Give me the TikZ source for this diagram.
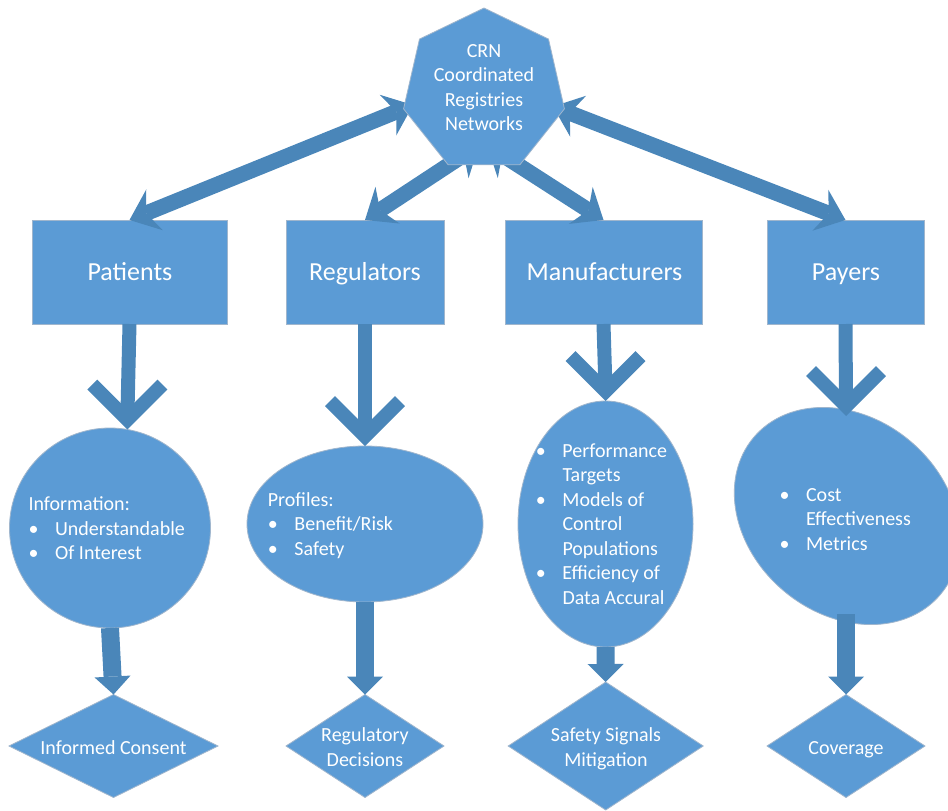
\documentclass[tikz,border=0pt]{standalone}
\usepackage{fontspec}
\setmainfont{Carlito}
\usetikzlibrary{shapes.geometric,arrows.meta,calc}
\definecolor{boxc}{RGB}{91,155,213}
\definecolor{arrc}{RGB}{74,134,185}
\definecolor{edgec}{RGB}{160,182,205}
\newcommand\bulitem{\makebox[26.6pt][l]{\textbullet}}
\newcommand\indbl{\hspace*{26.6pt}}
\newcommand\chevat[1]{\draw[chev] ($(#1)+(-35,-44.9)$) -- ($(#1)+(0,-9.9)$) -- ($(#1)+(35,-44.9)$);}
\begin{document}
\begin{tikzpicture}[x=1pt,y=-1pt,
  shapebox/.style={fill=boxc, draw=edgec, line width=0.8pt, inner sep=0pt, outer sep=0pt},
  txt/.style={text=white, font=\fontsize{20}{24.5}\selectfont, inner sep=0pt},
  bigtxt/.style={text=white, font=\fontsize{26}{31}\selectfont, inner sep=0pt, anchor=base},
  toparr/.style={draw=arrc, line width=15.5pt, >={Stealth[length=27pt,width=44pt,inset=9pt,line width=0pt]}, <->},
  botarr/.style={draw=arrc, line width=18pt, -{Triangle[length=18pt,width=36pt,line width=0pt]}},
  shaft/.style={draw=arrc, line width=14pt},
  chev/.style={draw=arrc, line width=14pt, line join=miter},
]
\fill[white] (0,0) rectangle (948,811);
\useasboundingbox (0,0) rectangle (948,811);

% boxes
\node[shapebox, minimum width=195, minimum height=104] (pat) at (129.5,272) {};
\node[shapebox, minimum width=158, minimum height=104] (reg) at (365,272) {};
\node[shapebox, minimum width=197, minimum height=104] (man) at (603.5,272) {};
\node[shapebox, minimum width=157, minimum height=104] (pay) at (845.5,272) {};
\node[bigtxt] (patl) at (130,280.5) {Patients};
\node[bigtxt] (regl) at (365,280.5) {Regulators};
\node[bigtxt] (manl) at (604.5,280.5) {Manufacturers};
\node[bigtxt] (payl) at (846,280.5) {Payers};

% ellipses
\node[shapebox, ellipse, minimum width=201, minimum height=200] (patc) at (110,528) {};
\node[shapebox, ellipse, minimum width=236, minimum height=156] (regc) at (365,524) {};
\node[shapebox, ellipse, minimum width=175, minimum height=246] (manc) at (605.5,524) {};
\node[shapebox, ellipse, minimum width=244, minimum height=196, rotate=-40] (payc) at (847,516) {};

% diamonds
\node[shapebox, diamond, minimum width=209, minimum height=103] (ic) at (113.5,746) {};
\node[shapebox, diamond, minimum width=158, minimum height=103] (rd) at (365,746) {};
\node[shapebox, diamond, minimum width=195, minimum height=128] (ss) at (605.7,746) {};
\node[shapebox, diamond, minimum width=158, minimum height=103] (cov) at (846,746) {};

% top arrows
\coordinate (h1) at (413,105);
\coordinate (h2) at (479,145);
\coordinate (h3) at (487,145);
\coordinate (h4) at (553,106.5);
\draw[toparr] (h1) -- (pat.north);
\draw[toparr] (h2) -- (reg.north);
\draw[toparr] (h3) -- (man.north);
\draw[toparr] (h4) -- (pay.north);

% heptagon
\node[shapebox, regular polygon, regular polygon sides=7, minimum size=165] (crn) at (484,90.5) {};
\node[txt, anchor=base] (crnt) at (484,57.3) {\begin{tabular}[t]{@{}c@{}}CRN\\Coordinated\\Registries\\Networks\end{tabular}};

% box -> ellipse arrows
\coordinate (paytip) at (846,416);
\draw[shaft] (pat.south) -- ($(patc.80)+(0,-12)$);
\draw[shaft] (reg.south) -- ($(regc.north)+(0,-12)$);
\draw[shaft] (man.south) -- ($(manc.north)+(0,-12)$);
\draw[shaft] (pay.south) -- ($(paytip)+(0,-12)$);
\chevat{patc.80}
\chevat{regc.north}
\chevat{manc.north}
\chevat{paytip}

% ellipse -> diamond arrows
\coordinate (paybot) at (846,614);
\draw[botarr] (patc.south) -- (ic.north);
\draw[botarr] (regc.south) -- (rd.north);
\draw[botarr] (manc.south) -- (ss.north);
\draw[botarr] (paybot) -- (cov.north);

% ellipse texts
\node[txt, anchor=base west] (patt) at (28.3,510.7) {\begin{tabular}[t]{@{}l@{}}Information:\\\bulitem Understandable\\\bulitem Of Interest\end{tabular}};
\node[txt, anchor=base west] (regt) at (267.7,506) {\begin{tabular}[t]{@{}l@{}}Profiles:\\\bulitem Benefit/Risk\\\bulitem Safety\end{tabular}};
\node[txt, anchor=base west] (mant) at (535.7,457.3) {\begin{tabular}[t]{@{}l@{}}\bulitem Performance\\\indbl Targets\\\bulitem Models of\\\indbl Control\\\indbl Populations\\\bulitem Efficiency of\\\indbl Data Accural\end{tabular}};
\node[txt, anchor=base west] (payt) at (779.3,501) {\begin{tabular}[t]{@{}l@{}}\bulitem Cost\\\indbl Effectiveness\\\bulitem Metrics\end{tabular}};

% diamond texts
\node[txt, anchor=base] (ict) at (113.5,754) {Informed Consent};
\node[txt, anchor=base] (rdt) at (365,741.7) {\begin{tabular}[t]{@{}c@{}}Regulatory\\Decisions\end{tabular}};
\node[txt, anchor=base] (sst) at (606,741.7) {\begin{tabular}[t]{@{}c@{}}Safety Signals\\Mitigation\end{tabular}};
\node[txt, anchor=base] (covt) at (846,754) {Coverage};
\end{tikzpicture}
\end{document}
